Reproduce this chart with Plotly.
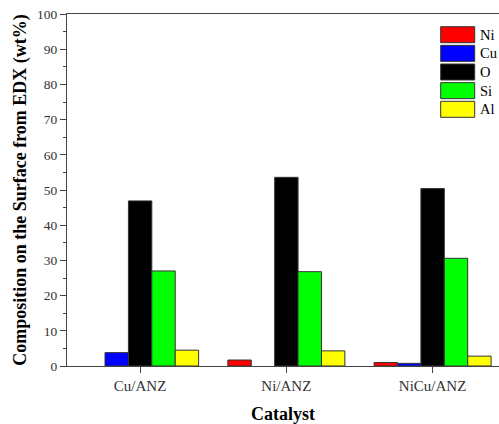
import plotly.graph_objects as go

categories = ["Cu/ANZ", "Ni/ANZ", "NiCu/ANZ"]
elements = ["Ni", "Cu", "O", "Si", "Al"]
ni_vals = [0.0, 1.7, 1.0]
cu_vals = [3.8, 0.0, 0.75]
o_vals = [46.9, 53.6, 50.4]
si_vals = [27.0, 26.8, 30.6]
al_vals = [4.5, 4.3, 2.8]
colors = ["#ff0000", "#0000ff", "#000000", "#00ff00", "#ffff00"]
series = [ni_vals, cu_vals, o_vals, si_vals, al_vals]

W, H = 499, 424
ML, MT, MB, MR = 67, 14, 58, 0
FONT = "Liberation Serif, Times New Roman, serif"

fig = go.Figure()
for name, vals, col in zip(elements, series, colors):
    widths = [1 if v > 0 else 0 for v in vals]
    fig.add_trace(go.Bar(x=categories, y=vals, name=name,
                         marker=dict(color=col, line=dict(color="#333333", width=widths)),
                         showlegend=False))

pw = W - ML - MR
ph = H - MT - MB
def px(x):
    return (x - ML) / pw
def py(y):
    return (H - MB - y) / ph

shapes = []
annotations = []
for i, (name, col) in enumerate(zip(elements, colors)):
    top = 26.7 + i * 18.65
    shapes.append(dict(type="rect", xref="paper", yref="paper", x0=px(440.7), x1=px(474.7),
                       y0=py(top + 16), y1=py(top), fillcolor=col, line=dict(color="#333333", width=1)))
    annotations.append(dict(xref="paper", yref="paper", x=px(477.5), y=py(top + 8), text=name, showarrow=False,
                            xanchor="left", yanchor="middle", font=dict(family=FONT, size=14.5, color="#000")))

fig.update_layout(
    width=W, height=H, margin=dict(l=ML, r=MR, t=MT, b=MB, pad=0),
    paper_bgcolor="white", plot_bgcolor="white",
    barmode="group", bargap=0.2, bargroupgap=0,
    font=dict(family=FONT, size=13, color="#333"),
    shapes=shapes, annotations=annotations,
    xaxis=dict(range=[-0.5, 2.454], showline=True, linecolor="#444", linewidth=1.3, mirror=True,
               ticks="outside", ticklen=6, tickcolor="#444", tickwidth=1.3,
               tickfont=dict(family=FONT, size=15, color="#333"),
               title=dict(text="<b>Catalyst</b>", font=dict(family=FONT, size=18, color="#000"), standoff=17),
               showgrid=False),
    yaxis=dict(range=[0, 100], dtick=10, showline=True, linecolor="#444", linewidth=1.3,
               ticks="outside", ticklen=6, tickcolor="#444", tickwidth=1.3,
               minor=dict(dtick=5, ticks="outside", ticklen=3, tickcolor="#444", tickwidth=1.3),
               tickfont=dict(family=FONT, size=13.5, color="#333"),
               title=dict(text="<b>Composition on the Surface from EDX (wt%)</b>",
                          font=dict(family=FONT, size=18, color="#000"), standoff=5),
               showgrid=False, zeroline=False),
)

fig.write_html("out.html")
